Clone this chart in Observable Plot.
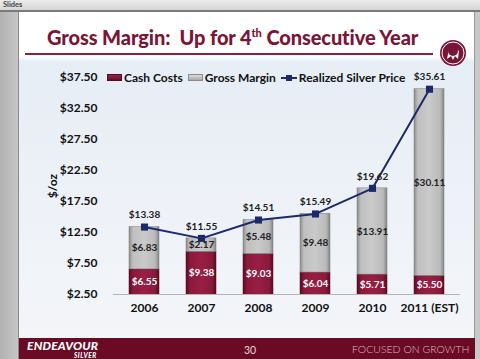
<!DOCTYPE html>
<html>
<head>
<meta charset="utf-8">
<script src="https://cdn.jsdelivr.net/npm/d3@7"></script>
<script src="https://cdn.jsdelivr.net/npm/@observablehq/plot@0.6"></script>
<style>
  html, body { margin: 0; padding: 0; }
  body { width: 480px; height: 359px; overflow: hidden; position: relative; background: #c4c4c4; font-family: Lato, "Open Sans", sans-serif; }
  .abs { position: absolute; white-space: nowrap; }
  #topbar { left: 0; top: 0; width: 480px; height: 10px; background: linear-gradient(#ececec, #d6d6d6); font-size: 7.5px; font-weight: bold; color: #444; line-height: 10px; padding-left: 3px; box-sizing: border-box; }
  #topline { left: 0; top: 10px; width: 480px; height: 2px; background: #7a7a7a; }
  #leftpanel { left: 0; top: 12px; width: 19px; height: 347px; background: linear-gradient(to right, #b2b2b2, #c6c6c6); border-right: 1px solid #8a8a8a; box-sizing: border-box; }
  #slide { left: 19px; top: 12px; width: 455px; height: 326px; background: linear-gradient(#ffffff 0px, #ffffff 44px, #e7edf5 50px, #eef2f8 200px, #f3f5f9 326px); }
  #rightpanel { left: 474px; top: 12px; width: 6px; height: 347px; background: #c8c8c8; border-left: 1px solid #9a9a9a; box-sizing: border-box; }
  #title { left: 47px; top: 25px; font-size: 20px; font-weight: 900; color: #7a1535; letter-spacing: -0.1px; }
  #title sup { font-size: 11px; vertical-align: 8px; line-height: 0; }
  #rule { left: 25px; top: 53px; width: 408px; height: 1.5px; background: #8b2040; }
  #footer { left: 19px; top: 338px; width: 456px; height: 21px; background: #6b0a25; }
  #brand { left: 27px; top: 340px; height: 11px; line-height: 11px; color: #fff; font-weight: 900; font-style: italic; font-size: 12px; letter-spacing: 0.2px; }
  #brand2 { left: 74px; top: 352px; height: 7px; line-height: 7px; color: #fff; font-weight: 900; font-style: italic; font-size: 6.5px; letter-spacing: 0.5px; }
  #page { left: 244px; top: 344px; line-height: 12px; color: #e6d6db; font-size: 10.5px; }
  #slogan { left: 352px; top: 343px; line-height: 12px; color: #d9bfc7; font-size: 10.5px; letter-spacing: 0; font-weight: 300; }
  #legend { left: 107px; top: 70px; font-size: 12px; font-weight: bold; color: #111; display: flex; align-items: center; }
  .sw { display: inline-block; width: 15px; height: 7px; margin-right: 2px; box-sizing: border-box; }
  .lg { margin-right: 5px; }
  #chart { left: 0; top: 60px; }
</style>
</head>
<body>
<div id="topbar" class="abs">Slides</div>
<div id="topline" class="abs"></div>
<div id="leftpanel" class="abs"></div>
<div id="slide" class="abs"></div>
<div id="rightpanel" class="abs"></div>
<div id="title" class="abs">Gross Margin:&nbsp; Up for 4<sup>th</sup> Consecutive Year</div>
<div id="rule" class="abs"></div>
<svg class="abs" style="left:439px;top:39px" width="28" height="28" viewBox="0 0 28 28">
  <circle cx="14" cy="14" r="13" fill="#7a1535"/>
  <circle cx="14" cy="14" r="11" fill="none" stroke="#fff" stroke-width="1"/>
  <path d="M8 20 L10 10 L14 13 L15 8 L20 12 L19 20 L16 17 L14 21 L12 17 Z" fill="#fff"/>
  <circle cx="14" cy="12" r="5" fill="#7a1535"/>
</svg>
<div id="chart" class="abs"></div>
<div id="legend" class="abs">
  <span class="sw" style="background:linear-gradient(#9a2447,#6a0f2a);border:1px solid #5a0a20"></span><span class="lg">Cash Costs</span>
  <span class="sw" style="background:linear-gradient(#dcdcdc,#a8a8a8);border:1px solid #8a8a8a"></span><span class="lg">Gross Margin</span>
  <svg width="16" height="8" style="margin-right:2px"><line x1="0" y1="4" x2="16" y2="4" stroke="#1b2a6b" stroke-width="2"/><rect x="5" y="1" width="6" height="6" fill="#1b2a6b"/></svg><span>Realized Silver Price</span>
</div>
<div id="footer" class="abs"></div>
<div id="brand" class="abs">ENDEAVOUR</div>
<div id="brand2" class="abs">SILVER</div>
<div id="page" class="abs">30</div>
<div id="slogan" class="abs">FOCUSED ON GROWTH</div>
<script>
const years = ["2006", "2007", "2008", "2009", "2010", "2011 (EST)"];
const cashCosts = [6.55, 9.38, 9.03, 6.04, 5.71, 5.50];
const grossMargin = [6.83, 2.17, 5.48, 9.48, 13.91, 30.11];
const silverPrice = [13.38, 11.55, 14.51, 15.49, 19.62, 35.61];
const yTicks = [2.5, 7.5, 12.5, 17.5, 22.5, 27.5, 32.5, 37.5];
const yMin = 2.5, yMax = 37.5;

const rows = years.map((year, i) => ({
  year, cash: cashCosts[i], margin: grossMargin[i], price: silverPrice[i]
}));
const money = v => "$" + v.toFixed(2);

const chart = Plot.plot({
  width: 480,
  height: 260,
  marginTop: 17,
  marginBottom: 26,
  marginLeft: 113,
  marginRight: 20,
  style: { fontFamily: "Lato, 'Open Sans', sans-serif", fontWeight: "bold", fontSize: "12px", color: "#111", background: "transparent", overflow: "visible" },
  x: { domain: years, paddingInner: 0.48, paddingOuter: 0.24 },
  y: { domain: [yMin, yMax] },
  marks: [
    Plot.barY(rows, { x: "year", y1: 0, y2: "cash", fill: "url(#gCash)", stroke: "#5a0a20", strokeWidth: 0.5, clip: true }),
    Plot.barY(rows, { x: "year", y1: "cash", y2: d => d.cash + d.margin, fill: "url(#gMargin)", stroke: "#7e7e7e", strokeWidth: 0.5, clip: true }),
    Plot.ruleY([yMin], { stroke: "#b4b4b4", strokeWidth: 1 }),
    Plot.axisY({ ticks: yTicks, tickFormat: money, tickSize: 0, tickPadding: 16, label: "$/oz", labelAnchor: "center", labelOffset: 65, labelArrow: "none" }),
    Plot.axisX({ tickSize: 0, tickPadding: 9, label: null }),
    Plot.line(rows, { x: "year", y: "price", stroke: "#1b2a6b", strokeWidth: 2 }),
    Plot.dot(rows, { x: "year", y: "price", symbol: "square", r: 4, fill: "#1b2a6b", stroke: "none" }),
    Plot.text(rows, { x: "year", y: "price", text: d => money(d.price), dy: -12, fontSize: 10, fill: "#222" }),
    Plot.text(rows, { x: "year", y: d => d.cash + d.margin / 2, text: d => money(d.margin), fontSize: 10, fill: "#222" }),
    Plot.text(rows, { x: "year", y: d => (yMin + d.cash) / 2, text: d => money(d.cash), fontSize: 10, fill: "#fff" })
  ]
});

const defs = `<defs>
  <linearGradient id="gCash" x1="0" y1="0" x2="1" y2="0">
    <stop offset="0" stop-color="#5c0a22"/>
    <stop offset="0.14" stop-color="#8a1a3c"/>
    <stop offset="0.5" stop-color="#981f44"/>
    <stop offset="0.86" stop-color="#8a1a3c"/>
    <stop offset="1" stop-color="#5c0a22"/>
  </linearGradient>
  <linearGradient id="gMargin" x1="0" y1="0" x2="1" y2="0">
    <stop offset="0" stop-color="#8c8c8c"/>
    <stop offset="0.13" stop-color="#c0c0c0"/>
    <stop offset="0.5" stop-color="#cacaca"/>
    <stop offset="0.87" stop-color="#bababa"/>
    <stop offset="1" stop-color="#848484"/>
  </linearGradient>
</defs>`;
chart.insertAdjacentHTML("afterbegin", defs);
document.getElementById("chart").appendChild(chart);
</script>
</body>
</html>
